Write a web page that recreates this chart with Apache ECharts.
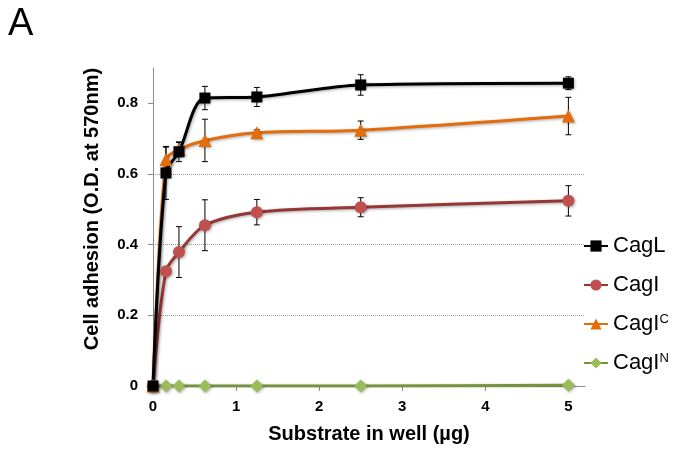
<!DOCTYPE html>
<html>
<head>
<meta charset="utf-8">
<script src="https://cdn.jsdelivr.net/npm/echarts@6/dist/echarts.min.js"></script>
<style>
html, body { margin: 0; padding: 0; background: #fff; }
#chart { width: 674px; height: 455px; }
</style>
</head>
<body>
<div id="chart"></div>
<script>
// substrate amounts (µg) and measured O.D. values
var substrate = [0, 0.156, 0.3125, 0.625, 1.25, 2.5, 5]
var xTicks = [0, 1, 2, 3, 4, 5]
var yTicks = [0, 0.2, 0.4, 0.6, 0.8]

var cagL = [0, 0.603, 0.663, 0.815, 0.818, 0.852, 0.857]
var cagLErr = [0, 0.075, 0.028, 0.033, 0.027, 0.029, 0.018]

var cagI = [0, 0.325, 0.379, 0.455, 0.492, 0.506, 0.524]
var cagIErr = [0, 0.008, 0.072, 0.072, 0.036, 0.027, 0.043]

var cagIC = [0, 0.641, 0.669, 0.695, 0.717, 0.724, 0.764]
var cagICErr = [0, 0.035, 0.02, 0.06, 0.008, 0.026, 0.053]

var cagIN = [0, 0, 0, 0, 0, 0, 0.002]

var font = 'Liberation Sans, Arial, Helvetica, sans-serif'

function pairs(vals) {
    return substrate.map(function(x, i) { return [x, vals[i]] })
}

function errData(vals, errs) {
    var out = []
    substrate.forEach(function(x, i) {
        if (errs[i] > 0) out.push([x, vals[i] - errs[i], vals[i] + errs[i]])
    })
    return out
}

var shadow = {
    shadowColor: 'rgba(0,0,0,0.35)',
    shadowBlur: 3,
    shadowOffsetX: 1,
    shadowOffsetY: 1
}

function errSeries(vals, errs) {
    return {
        type: 'custom',
        z: 1,
        silent: true,
        data: errData(vals, errs),
        renderItem: function(params, api) {
            var x = api.value(0)
            var lo = api.coord([x, api.value(1)])
            var hi = api.coord([x, api.value(2)])
            var w = 3
            var st = { stroke: '#000', lineWidth: 1 }
            return {
                type: 'group',
                children: [
                    { type: 'line', shape: { x1: lo[0], y1: lo[1], x2: hi[0], y2: hi[1] }, style: st },
                    { type: 'line', shape: { x1: lo[0] - w, y1: lo[1], x2: lo[0] + w, y2: lo[1] }, style: st },
                    { type: 'line', shape: { x1: hi[0] - w, y1: hi[1], x2: hi[0] + w, y2: hi[1] }, style: st }
                ]
            }
        }
    }
}

function lineSeries(name, vals, lineColor, markColor, symbol, size) {
    return {
        name: name,
        type: 'line',
        z: 2,
        data: pairs(vals),
        smooth: 0.3,
        symbol: symbol,
        symbolSize: size,
        lineStyle: Object.assign({ color: lineColor, width: 3 }, shadow),
        itemStyle: Object.assign({ color: markColor }, shadow)
    }
}

var chart = echarts.init(document.getElementById('chart'))
var option = {
    animation: false,
    title: {
        text: 'A',
        left: 8,
        top: 6,
        padding: 0,
        textStyle: { fontFamily: font, fontSize: 38, fontWeight: 'normal', color: '#000' }
    },
    grid: { left: 153, right: 89, top: 68, bottom: 69 },
    legend: {
        orient: 'vertical',
        left: 578,
        top: 230,
        itemWidth: 24,
        itemHeight: 14,
        itemGap: 17,
        data: ['CagL', 'CagI', 'CagIC', 'CagIN'],
        formatter: function(name) {
            if (name === 'CagIC') return 'CagI{sup|C}'
            if (name === 'CagIN') return 'CagI{sup|N}'
            return name
        },
        textStyle: {
            fontFamily: font,
            fontSize: 22,
            lineHeight: 22,
            color: '#000',
            rich: {
                sup: { fontFamily: font, fontSize: 13, verticalAlign: 'top', lineHeight: 13, padding: [0, 0, 9, 0], color: '#000' }
            }
        }
    },
    xAxis: {
        type: 'value',
        min: 0,
        max: 5.2,
        interval: 1,
        name: 'Substrate in well (µg)',
        nameLocation: 'middle',
        nameGap: 38,
        nameTextStyle: { fontFamily: font, fontSize: 20, fontWeight: 'bold', color: '#000' },
        axisLine: { show: true, lineStyle: { color: '#8c8c8c', width: 1 } },
        axisTick: { show: true, length: 5, lineStyle: { color: '#8c8c8c' }, customValues: xTicks },
        axisLabel: { margin: 13, fontFamily: font, fontSize: 15, fontWeight: 'bold', color: '#000', customValues: xTicks },
        splitLine: { show: false }
    },
    yAxis: {
        type: 'value',
        min: 0,
        max: 0.9,
        interval: 0.2,
        name: 'Cell adhesion (O.D. at 570nm)',
        nameLocation: 'middle',
        nameGap: 51,
        nameTextStyle: { fontFamily: font, fontSize: 20, fontWeight: 'bold', color: '#000', padding: [0, 0, 0, 36] },
        axisLine: { show: true, lineStyle: { color: '#8c8c8c', width: 1 } },
        axisTick: { show: true, length: 5, lineStyle: { color: '#8c8c8c' }, customValues: yTicks },
        axisLabel: { margin: 15, fontFamily: font, fontSize: 15, fontWeight: 'bold', color: '#000', customValues: yTicks },
        splitLine: { show: true, showMinLine: false, showMaxLine: false, lineStyle: { color: '#9a9a9a', type: 'dotted', width: 1 } }
    },
    series: [
        errSeries(cagL, cagLErr),
        errSeries(cagI, cagIErr),
        errSeries(cagIC, cagICErr),
        lineSeries('CagIN', cagIN, '#77933c', '#9bbb59', 'diamond', 13),
        lineSeries('CagI', cagI, '#953735', '#c0504d', 'circle', 12),
        lineSeries('CagIC', cagIC, '#e46c0a', '#e46c0a', 'triangle', 13),
        lineSeries('CagL', cagL, '#000', '#000', 'rect', 11)
    ]
}
chart.setOption(option)
window.onresize = function() {
    chart.resize()
}
</script>
</body>
</html>
